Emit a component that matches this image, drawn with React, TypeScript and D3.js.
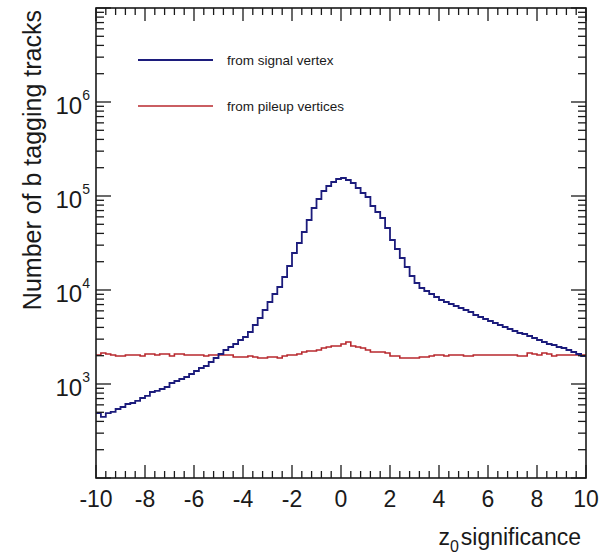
import React from "react";
import * as d3 from "d3";

// Histogram binning: 100 bins of width 0.2 from -10 to 10
const binStart = -10;
const binWidth = 0.2;

// Number of b tagging tracks per bin, from signal vertex
const signalCounts = [
  491, 446, 491, 504, 542, 569, 613, 628, 660, 710,
  746, 822, 843, 885, 929, 1025, 1076, 1130, 1187, 1278,
  1375, 1480, 1554, 1714, 1891, 2085, 2300, 2476, 2665, 2939,
  3162, 3575, 4244, 5037, 6128, 7455, 9066, 10760, 13750, 18000,
  24760, 31620, 41400, 55550, 74550, 92920, 113000, 127800, 140900, 151700,
  155400, 148000, 137500, 121600, 107600, 97590, 78280, 67590, 58340, 45660,
  34030, 27310, 21890, 17570, 14090, 11870, 10500, 9759, 9066, 8425,
  7828, 7455, 7099, 6759, 6436, 6128, 5834, 5420, 5162, 4915,
  4680, 4456, 4244, 4041, 3848, 3664, 3488, 3403, 3241, 3086,
  2939, 2799, 2665, 2599, 2476, 2415, 2300, 2189, 2085, 1986,
];

// Number of b tagging tracks per bin, from pileup vertices
const pileupCounts = [
  2035, 2137, 2085, 2035, 1986, 1986, 2035, 2035, 2035, 1986,
  2085, 2085, 2035, 2085, 2085, 1986, 2085, 2085, 2035, 2035,
  2035, 2035, 1986, 2035, 2035, 2035, 2035, 2035, 1938, 1938,
  1938, 1986, 1938, 1891, 1891, 1938, 1938, 1891, 1986, 2035,
  2035, 2085, 2189, 2244, 2244, 2300, 2415, 2476, 2537, 2537,
  2665, 2799, 2537, 2476, 2415, 2300, 2189, 2189, 2189, 2137,
  1986, 1986, 1891, 1891, 1891, 1891, 1938, 1938, 1986, 2035,
  2035, 1986, 2035, 2035, 2035, 1986, 1986, 2035, 2035, 2035,
  2035, 2035, 2035, 2035, 2035, 2035, 1986, 1986, 2137, 2085,
  2035, 2137, 2085, 1986, 2035, 2035, 2035, 2035, 2035, 2035,
];

const xTickValues = [-10, -8, -6, -4, -2, 0, 2, 4, 6, 8, 10];
const yDecades = [3, 4, 5, 6];
const legendLabels = ["from signal vertex", "from pileup vertices"];
const xTitleMain = "z";
const xTitleSub = "0";
const xTitleRest = "significance";
const yTitle = "Number of b tagging tracks";

const W = 603;
const H = 560;
const M = { left: 96, right: 586, top: 8, bottom: 478 };
const BLUE = "#1c1c7c";
const RED = "#b8282e";
const INK = "#1a1a1a";
const FONT = "'Liberation Sans', Arial, Helvetica, sans-serif";

export default function App() {
  const x = d3.scaleLinear().domain([-10, 10]).range([M.left, M.right]);
  const y = d3.scaleLog().domain([100, 1e7]).range([M.bottom, M.top]);

  const histPath = (counts: number[]) => {
    const pts: [number, number][] = counts.map((c, i) => [binStart + i * binWidth, c]);
    pts.push([binStart + counts.length * binWidth, counts[counts.length - 1]]);
    return d3
      .line<[number, number]>()
      .x((d) => x(d[0]))
      .y((d) => y(d[1]))
      .curve(d3.curveStepAfter)(pts) as string;
  };

  // x minor ticks every 0.4
  const xMinor = d3.range(-10, 10.001, 0.4).map((v) => +v.toFixed(2));
  // y minor ticks
  const yMinor: number[] = [];
  for (let e = 2; e < 7; e++) {
    for (let k = 2; k <= 9; k++) yMinor.push(k * Math.pow(10, e));
  }

  const majorLenY = 15;
  const minorLenY = 8;
  const majorLenX = 13;
  const minorLenX = 7;

  return (
    <svg
      width={W}
      height={H}
      style={{ position: "absolute", left: 0, top: 0, background: "#fff" }}
      fontFamily={FONT}
    >
      <rect x={0} y={0} width={W} height={H} fill="#fff" />

      {/* histograms */}
      <path d={histPath(pileupCounts)} fill="none" stroke={RED} strokeWidth={1.6} />
      <path d={histPath(signalCounts)} fill="none" stroke={BLUE} strokeWidth={1.8} />

      {/* frame */}
      <rect
        x={M.left}
        y={M.top}
        width={M.right - M.left}
        height={M.bottom - M.top}
        fill="none"
        stroke={INK}
        strokeWidth={1.6}
      />

      {/* x ticks */}
      {xMinor.map((v, i) => {
        const isMajor = Math.abs(v / 2 - Math.round(v / 2)) < 1e-6;
        const len = isMajor ? majorLenX : minorLenX;
        const xx = x(v);
        return (
          <g key={"xt" + i} stroke={INK} strokeWidth={1.3}>
            <line x1={xx} x2={xx} y1={M.bottom} y2={M.bottom - len} />
            <line x1={xx} x2={xx} y1={M.top} y2={M.top + len} />
          </g>
        );
      })}

      {/* y ticks */}
      {yDecades.concat([2, 7]).map((e) => {
        const yy = y(Math.pow(10, e));
        return (
          <g key={"ym" + e} stroke={INK} strokeWidth={1.3}>
            <line x1={M.left} x2={M.left + majorLenY} y1={yy} y2={yy} />
            <line x1={M.right} x2={M.right - majorLenY} y1={yy} y2={yy} />
          </g>
        );
      })}
      {yMinor.map((v, i) => {
        const yy = y(v);
        return (
          <g key={"yn" + i} stroke={INK} strokeWidth={1.3}>
            <line x1={M.left} x2={M.left + minorLenY} y1={yy} y2={yy} />
            <line x1={M.right} x2={M.right - minorLenY} y1={yy} y2={yy} />
          </g>
        );
      })}

      {/* x tick labels */}
      {xTickValues.map((v) => (
        <text
          key={"xl" + v}
          x={x(v)}
          y={507}
          textAnchor="middle"
          fontSize={23}
          fill={INK}
        >
          {v}
        </text>
      ))}

      {/* y tick labels */}
      {yDecades.map((e) => {
        const yy = y(Math.pow(10, e));
        return (
          <text key={"yl" + e} x={90} y={yy + 12} textAnchor="end" fontSize={24} fill={INK}>
            10
            <tspan fontSize={14} dy={-14}>
              {e}
            </tspan>
          </text>
        );
      })}

      {/* axis titles */}
      <text x={581} y={545} textAnchor="end" fontSize={23} fill={INK}>
        {xTitleMain}
        <tspan fontSize={16} dy={7}>
          {xTitleSub}
        </tspan>
        <tspan dy={-7} dx={2}>
          {xTitleRest}
        </tspan>
      </text>
      <text
        transform={`translate(41, 10) rotate(-90)`}
        textAnchor="end"
        fontSize={25}
        fill={INK}
      >
        {yTitle}
      </text>

      {/* legend */}
      <line x1={138} x2={213} y1={60} y2={60} stroke={BLUE} strokeWidth={1.8} />
      <text x={227} y={65} fontSize={13.5} fill={INK}>
        {legendLabels[0]}
      </text>
      <line x1={138} x2={213} y1={106} y2={106} stroke={RED} strokeWidth={1.6} />
      <text x={227} y={111} fontSize={13.5} fill={INK}>
        {legendLabels[1]}
      </text>
    </svg>
  );
}
